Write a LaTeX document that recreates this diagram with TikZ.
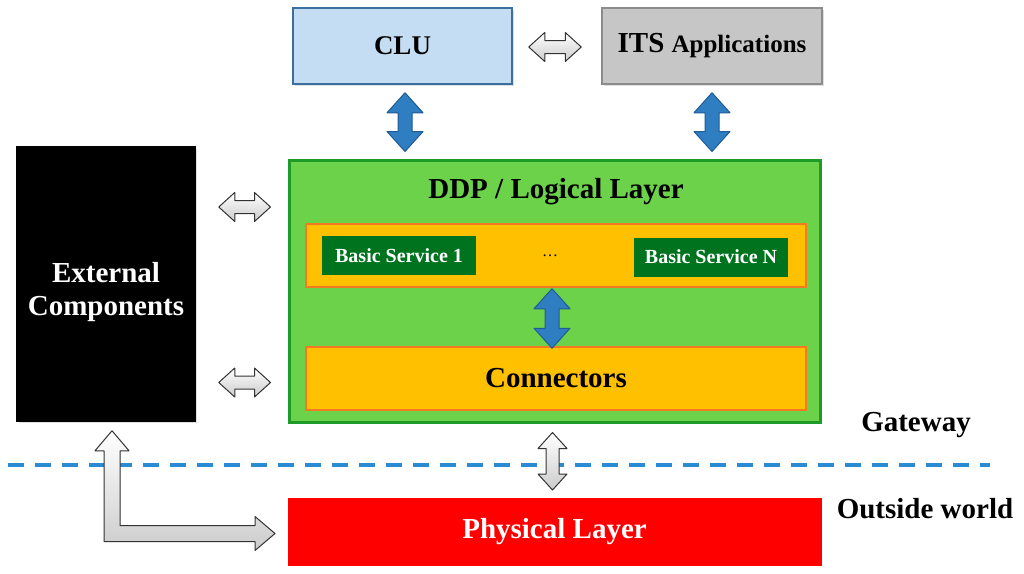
\documentclass[tikz,border=0pt]{standalone}
\usepackage{fontspec}
\setmainfont{Liberation Serif}
\usepackage{tikz}
\usetikzlibrary{calc,shadows}

\definecolor{cluBlue}{HTML}{C5DDF2}
\definecolor{cluEdge}{HTML}{3A6F9F}
\definecolor{itsGray}{HTML}{C6C6C6}
\definecolor{itsEdge}{HTML}{8C8C8C}
\definecolor{ddpGreen}{HTML}{6CD24A}
\definecolor{ddpEdge}{HTML}{1E9A28}
\definecolor{stripOrange}{HTML}{FFC000}
\definecolor{stripEdge}{HTML}{F47A20}
\definecolor{serviceGreen}{HTML}{00731F}
\definecolor{arrowBlue}{HTML}{2F7EC1}
\definecolor{arrowBlueEdge}{HTML}{1F5C95}
\definecolor{dashBlue}{HTML}{2A8AD3}

% double block arrow: [style]{from}{to}{shaft half}{head half}{head length}
\newcommand\blockarrow[6][]{
    \coordinate (ba-a) at #2;
    \coordinate (ba-b) at #3;
    \coordinate (ba-h) at ($(ba-a)!#6!(ba-b)$);
    \coordinate (ba-k) at ($(ba-b)!#6!(ba-a)$);
    \draw[#1] (ba-a) -- ($(ba-h)!#5!90:(ba-b)$) -- ($(ba-h)!#4!90:(ba-b)$)
        -- ($(ba-k)!#4!-90:(ba-a)$) -- ($(ba-k)!#5!-90:(ba-a)$) -- (ba-b)
        -- ($(ba-k)!#5!90:(ba-a)$) -- ($(ba-k)!#4!90:(ba-a)$)
        -- ($(ba-h)!#4!-90:(ba-b)$) -- ($(ba-h)!#5!-90:(ba-b)$) -- cycle;
}

\begin{document}
\begin{tikzpicture}[x=1pt, y=-1pt,
    box/.style={draw, line width=1.5pt, inner sep=0pt, align=center, font=\bfseries\fontsize{29}{33}\selectfont},
    shade/.style={drop shadow={shadow xshift=2pt, shadow yshift=-2pt, opacity=0.25}},
    service/.style={fill=serviceGreen, text=white, inner sep=0pt, minimum width=154pt, minimum height=39pt, font=\bfseries\fontsize{20}{22}\selectfont},
    bluearrow/.style={fill=arrowBlue, draw=arrowBlueEdge, line width=1pt, line join=round},
    grayarrow/.style={top color=white, bottom color=gray!40, draw=gray!40!black, line width=1pt, line join=round},
    label/.style={font=\bfseries\fontsize{29}{33}\selectfont}]
\useasboundingbox (0,0) rectangle (1024,573);
\fill[white] (0,0) rectangle (1024,573);

% top row
\node[box, shade, draw=cluEdge, fill=cluBlue, minimum width=219pt, minimum height=76pt, font=\bfseries\fontsize{27}{30}\selectfont] (clu) at (402.5,46) {CLU};
\node[box, shade, draw=itsEdge, fill=itsGray, minimum width=220pt, minimum height=76pt] (its) at (712,46)
    {ITS {\fontsize{25}{28}\selectfont Applications}};

% logical layer
\node[box, shade, draw=ddpEdge, fill=ddpGreen, line width=3pt, minimum width=531pt, minimum height=262pt] (ddp) at (554.5,291) {};
\node[label] (ddptitle) at (556,192) {DDP / Logical Layer};
\node[box, draw=stripEdge, fill=stripOrange, minimum width=500pt, minimum height=63pt] (services) at (556,255.5) {};
\node[service] (bs1) at (399,255.5) {Basic Service 1};
\node[service] (bsn) at (711,257) {Basic Service N};
\node[font=\fontsize{16}{18}\selectfont] (dots) at (550,256) {\dots};
\node[box, draw=stripEdge, fill=stripOrange, minimum width=500pt, minimum height=63pt] (conn) at (556,378.5) {Connectors};

% side and bottom
\node[box, shade, draw=black, fill=black, minimum width=178pt, minimum height=274pt] (ext) at (106,284) {};
\node[label, text=white, align=center] (extlabel) at (106,292) {External\\Components};
\node[box, draw=red, fill=red, text=white, line width=0pt, minimum width=533pt, minimum height=67pt] (phys) at (554.5,531.5) {Physical Layer};
\node[label] (gateway) at (916,425) {Gateway};
\node[label] (outside) at (925,509) {Outside world};

% border between gateway and outside world
\coordinate (gw-l) at (8,465);
\coordinate (gw-r) at (990,465);
\draw[dashBlue, line width=4pt, dash pattern=on 16pt off 11pt] (gw-l) -- (gw-r);

% arrows
\blockarrow[grayarrow]{($(clu.east)+(16,1)$)}{($(its.west)+(-20,1)$)}{6.5pt}{14.5pt}{16pt}
\blockarrow[bluearrow]{($(clu.south)+(2.5,8)$)}{($(clu.south |- ddp.north)+(2.5,-7)$)}{7pt}{18pt}{20pt}
\blockarrow[bluearrow]{($(its.south)+(0,8)$)}{($(its.south |- ddp.north)+(0,-7)$)}{7pt}{18pt}{20pt}
\blockarrow[bluearrow]{($(services.south)+(-4,1)$)}{($(conn.north)+(-4,2)$)}{7pt}{18pt}{20pt}
\blockarrow[grayarrow]{($(ext.east |- ddptitle)+(23,15)$)}{($(ddp.west |- ddptitle)+(-17,15)$)}{6.5pt}{14.5pt}{16pt}
\blockarrow[grayarrow]{($(ext.east |- conn)+(23,4)$)}{($(ddp.west |- conn)+(-17,4)$)}{6.5pt}{14.5pt}{16pt}
\blockarrow[grayarrow]{($(ddp.south)+(-2,9)$)}{($(phys.north)+(-2,-8)$)}{6.5pt}{14.5pt}{16pt}

\coordinate (lt) at ($(ext.south)+(6,9)$);
\coordinate (rt) at ($(phys.west)+(-13,2)$);
\draw[grayarrow] let \p1=(lt), \p2=(rt) in
    (\p1) -- (\x1+17pt,\y1-20pt) -- (\x1+8pt,\y1-20pt) -- (\x1+8pt,\y2+8pt)
    -- (\x2-20pt,\y2+8pt) -- (\x2-20pt,\y2+17pt) -- (\p2) -- (\x2-20pt,\y2-17pt)
    -- (\x2-20pt,\y2-8pt) -- (\x1-8pt,\y2-8pt) -- (\x1-8pt,\y1-20pt) -- (\x1-17pt,\y1-20pt) -- cycle;
\end{tikzpicture}
\end{document}
